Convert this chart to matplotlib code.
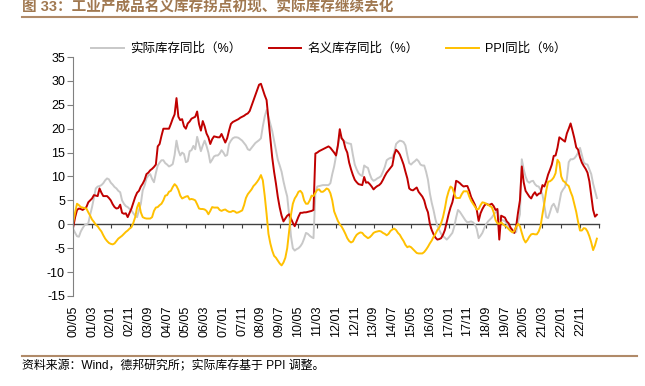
import matplotlib
matplotlib.use("Agg")
import matplotlib.pyplot as plt
from matplotlib.lines import Line2D
import pandas as pd

plt.rcParams['font.family'] = ['Liberation Sans', 'Noto Sans CJK SC']
plt.rcParams['axes.unicode_minus'] = False

# months 2000/05 .. 2023/08
months = pd.period_range('2000-05', periods=280, freq='M')
month_labels = [f"{p.year % 100:02d}/{p.month:02d}" for p in months]

# 实际库存同比 (%)
real_inv = [
    -1.0, -1.8, -2.5, -2.6, -1.5, -0.8, -0.2, 0.0, 0.2, 2.0,
    3.6, 5.5, 7.5, 7.9, 8.0, 8.2, 8.6, 9.2, 9.6, 9.4,
    8.7, 8.3, 7.8, 7.5, 7.0, 6.7, 5.0, 4.3, 3.8, 3.6,
    3.2, 2.9, 2.3, 1.8, 1.5, 3.0, 4.3, 7.1, 8.1, 9.6,
    10.2, 10.5, 9.5, 8.8, 10.7, 12.3, 12.9, 13.4, 13.4, 12.8,
    12.5, 12.1, 12.3, 12.6, 14.5, 17.5, 15.5, 14.4, 15.0, 14.7,
    13.0, 13.2, 15.3, 15.5, 16.4, 15.7, 18.3, 16.8, 15.3, 16.5,
    17.5, 16.4, 15.0, 12.9, 13.5, 14.2, 14.4, 14.4, 14.8, 15.5,
    15.0, 14.3, 14.5, 16.8, 17.5, 18.0, 18.2, 18.2, 18.1, 17.8,
    17.5, 17.0, 16.5, 15.7, 15.5, 16.0, 16.5, 17.0, 17.3, 17.6,
    18.0, 20.5, 22.5, 23.9, 22.5, 21.0, 19.5, 17.5, 15.5, 13.5,
    12.3, 11.0, 9.0, 7.3, 5.8, 2.0, -2.5, -5.0, -5.5, -5.2,
    -5.0, -4.6, -4.0, -3.0, -1.8, -2.0, -2.4, -2.7, -2.9, 6.5,
    7.9, 8.0, 8.1, 8.2, 8.2, 8.2, 8.2, 8.6, 10.5, 12.1,
    14.3, 16.5, 18.6, 18.0, 17.5, 17.2, 17.0, 16.9, 16.8, 14.5,
    12.5, 11.5, 10.7, 10.3, 10.1, 12.3, 12.0, 11.8, 10.5, 9.5,
    9.1, 9.3, 9.6, 9.8, 10.1, 11.0, 12.0, 13.4, 13.7, 13.9,
    13.9, 15.0, 16.8, 17.2, 17.5, 17.4, 17.2, 16.5, 14.5, 12.8,
    12.5, 12.9, 13.2, 13.6, 13.2, 12.5, 12.3, 12.3, 11.0, 9.3,
    6.5, 4.5, 2.9, 1.0, -0.3, -1.2, -2.0, -2.5, -2.8, -3.2,
    -2.8, -2.3, -1.8, -0.5, 1.4, 3.0, 2.6, 2.0, 1.4, 0.8,
    0.4, 0.5, 0.6, 0.4, 0.0, -1.0, -2.9, -2.4, -1.8, -0.8,
    0.0, 0.6, 1.0, 1.4, 2.0, 2.5, 2.9, 1.1, 1.0, 0.8,
    0.7, 0.2, -0.5, -1.0, -1.5, -1.8, -1.6, 0.5, 2.1, 13.6,
    11.5, 10.0, 9.0, 8.7, 9.0, 9.1, 8.4, 8.0, 7.9, 7.2,
    6.2, 4.0, 1.5, 1.3, 2.5, 3.8, 4.3, 3.5, 2.5, 4.5,
    6.6, 7.3, 7.8, 9.5, 13.0, 13.6, 13.6, 13.8, 14.3, 15.0,
    16.0, 14.5, 12.9, 12.6, 12.5, 11.5, 10.5, 8.5, 7.0, 5.5,
]

# 名义库存同比 (%)
nominal_inv = [
    -0.5, 1.5, 3.0, 3.3, 3.2, 3.0, 3.3, 3.6, 4.6, 5.0,
    5.4, 6.1, 6.0, 5.9, 7.5, 6.6, 5.9, 5.9, 5.9, 5.5,
    5.0, 4.2, 3.6, 3.3, 3.4, 4.1, 2.4, 2.2, 2.3, 1.5,
    2.4, 3.3, 4.5, 5.7, 6.6, 7.0, 7.9, 8.5, 9.3, 10.5,
    10.8, 11.3, 11.6, 12.0, 12.5, 16.3, 16.8, 18.5, 20.0, 20.0,
    20.0, 20.0, 21.0, 22.1, 23.0, 26.4, 22.5, 21.8, 22.0, 20.5,
    20.0, 21.1, 21.5, 22.1, 22.3, 22.5, 23.6, 21.0, 19.6, 21.6,
    20.5, 19.0, 18.2, 16.8, 17.8, 18.4, 18.3, 18.2, 18.2, 18.9,
    18.0, 17.1, 18.0, 19.6, 21.0, 21.4, 21.6, 21.8, 22.0, 22.3,
    22.5, 22.7, 23.0, 23.2, 23.7, 24.8, 25.9, 27.0, 28.1, 29.2,
    29.4, 28.2, 27.0, 26.0, 22.0, 18.0, 14.0, 11.0, 8.5, 5.7,
    3.5, 1.8, 0.6, 1.2, 1.8, 2.1, 1.2, 0.3, -0.4, 0.6,
    1.6, 2.4, 2.4, 2.5, 2.5, 2.6, 2.7, 2.8, 3.0, 14.8,
    15.0, 15.3, 15.5, 15.7, 15.9, 16.1, 16.3, 16.0, 15.5, 15.0,
    14.4, 16.5, 19.9, 18.0, 17.5, 15.9, 15.0, 12.9, 11.5, 10.3,
    9.3, 8.8, 8.4, 8.3, 8.2, 9.9, 8.7, 8.8, 8.4, 7.9,
    7.3, 7.7, 8.0, 8.2, 8.6, 9.3, 10.1, 10.8, 11.3, 11.8,
    12.3, 14.5, 15.6, 15.2, 14.6, 13.6, 12.5, 11.0, 9.6, 7.5,
    7.2, 7.1, 7.4, 7.7, 6.8, 6.3, 5.8, 5.0, 3.5, 2.5,
    0.1, -1.2, -2.1, -2.8, -3.2, -3.1, -2.9, -2.2, -1.2, 0.5,
    2.1, 3.5, 4.6, 6.4, 9.1, 8.9, 8.6, 8.2, 7.9, 8.0,
    8.0, 7.0, 5.7, 4.9, 4.1, 3.0, 0.7, 2.3, 3.2, 3.9,
    4.3, 4.1, 4.1, 4.3, 3.8, 3.0, 3.2, -3.2, 1.8, 1.6,
    1.4, 0.6, 0.2, -0.7, -1.2, -1.8, -0.4, 2.5, 5.0, 12.1,
    8.8, 7.0, 6.4, 5.8, 5.4, 6.2, 6.7, 6.0, 6.4, 6.5,
    8.2, 7.9, 9.0, 10.4, 11.4, 12.5, 14.3, 14.4, 16.0, 18.2,
    17.9, 17.6, 17.3, 19.0, 20.0, 21.1, 19.6, 18.0, 16.1, 15.6,
    14.0, 12.9, 12.2, 11.6, 10.8, 9.0, 6.0, 3.0, 1.6, 2.0,
]

# PPI同比 (%)
ppi = [
    0.5, 2.5, 4.3, 4.0, 3.6, 3.5, 3.4, 3.3, 2.5, 1.8,
    1.0, 0.5, -0.1, -0.4, -1.0, -1.5, -2.3, -3.0, -3.5, -3.9,
    -4.1, -4.2, -4.0, -3.5, -3.0, -2.7, -2.4, -2.0, -1.6, -1.3,
    -0.9, -0.6, 0.3, 1.5, 3.5, 4.5, 2.5, 1.5, 1.3, 1.2,
    1.2, 1.2, 1.5, 2.8, 3.5, 3.6, 4.0, 4.3, 5.0, 6.0,
    6.1, 6.8, 7.0, 7.8, 8.4, 8.0, 7.2, 6.0, 5.4, 5.6,
    5.8, 5.9, 5.2, 5.3, 5.2, 5.0, 4.2, 3.3, 3.2, 3.2,
    3.1, 2.8, 2.1, 2.8, 3.6, 3.5, 3.5, 3.5, 3.0, 2.8,
    3.0, 3.1, 2.8, 2.6, 2.6, 2.8, 2.7, 2.4, 2.5, 2.7,
    2.9, 4.0, 5.5, 6.3, 6.8, 7.3, 8.0, 8.4, 8.9, 9.5,
    10.3, 9.2, 6.0, 2.2, -2.0, -4.0, -5.5, -6.6, -7.0, -7.6,
    -8.2, -8.6, -8.0, -7.0, -5.0, -1.5, 2.0, 4.3, 5.4, 6.0,
    6.8, 7.0, 6.5, 5.0, 4.3, 4.3, 5.0, 6.0, 5.9, 6.6,
    7.2, 7.3, 6.8, 6.8, 7.1, 7.5, 7.3, 6.5, 5.0, 2.7,
    1.7, 0.7, 0.0, -0.5, -1.2, -2.0, -2.9, -3.5, -3.8, -3.6,
    -2.8, -2.2, -1.9, -1.7, -1.8, -2.3, -2.6, -2.9, -2.7, -2.3,
    -1.8, -1.6, -1.5, -1.4, -1.5, -1.8, -2.0, -2.3, -2.0, -1.4,
    -1.1, -0.9, -1.2, -1.8, -2.2, -2.9, -3.5, -4.3, -4.8, -4.6,
    -4.8, -5.2, -5.6, -6.0, -6.1, -6.1, -6.1, -5.8, -5.3, -4.7,
    -4.0, -3.4, -2.6, -2.0, -1.2, -0.7, 0.2, 1.5, 3.3, 5.5,
    6.9, 7.9, 7.6, 6.4, 5.5, 5.5, 5.5, 6.3, 6.9, 6.9,
    6.9, 5.8, 4.9, 4.3, 3.7, 3.1, 3.2, 4.0, 4.6, 4.5,
    4.3, 4.1, 3.8, 3.6, 2.5, 0.9, 0.2, 0.1, 0.4, 0.0,
    -0.3, -0.6, -1.0, -1.4, -1.7, -1.4, -0.5, 0.1, -0.4, -1.8,
    -3.1, -3.8, -3.3, -2.6, -2.1, -2.0, -2.1, -2.1, -1.5, -0.4,
    2.1, 4.4, 7.0, 8.9, 9.0, 9.3, 9.8, 10.7, 13.5, 12.9,
    10.0, 9.1, 8.8, 8.3, 8.0, 6.8, 5.8, 4.2, 2.6, 0.5,
    -1.3, -1.3, -0.8, -0.9, -1.5, -2.5, -3.8, -5.4, -4.4, -3.0,
]

series_names = ['实际库存同比（%）', '名义库存同比（%）', 'PPI同比（%）']
colors = ['#C8C8C8', '#C00000', '#FFC000']

fig = plt.figure(figsize=(6.45, 3.86), dpi=100)
ax = fig.add_axes([0.1136, 0.2332, 0.8147, 0.6191])

x = list(range(len(months)))
for vals, name, c in zip([real_inv, nominal_inv, ppi], series_names, colors):
    ax.plot(x, vals, color=c, lw=1.4, label=name)

ax.set_xlim(0, len(months))
ax.set_ylim(-15, 35)
ax.set_yticks(range(-15, 36, 5))

label_pos = list(range(0, len(months), 10))
ax.set_xticks(label_pos)
ax.set_xticklabels([month_labels[i] for i in label_pos], rotation=90)
ax.tick_params(axis='x', length=0, pad=7, labelsize=9)
ax.tick_params(axis='y', direction='out', length=4, color='#808080', labelsize=9, pad=2)

for s in ['top', 'right', 'bottom']:
    ax.spines[s].set_visible(False)
ax.spines['left'].set_color('#808080')

# zero line with its own ticks
zero_frac = (0 - (-15)) / (35 - (-15))
secax = ax.secondary_xaxis(zero_frac)
secax.set_xticks(list(range(0, len(months) + 1, 10)))
secax.tick_params(direction='out', length=3, color='#404040', labelbottom=False)
secax.spines['bottom'].set_color('#404040')
secax.spines['bottom'].set_linewidth(1.0)

fig.legend(loc='center', bbox_to_anchor=(0.51, 0.873), ncol=3, frameon=False,
           fontsize=9, handlelength=2.6, columnspacing=2.2, handletextpad=0.5)

brown = '#B08A68'
fig.text(0.034, 0.982, '图 33：工业产成品名义库存拐点初现、实际库存继续去化',
         fontsize=10.5, fontweight='bold', color='#A07850', va='center', ha='left')
fig.add_artist(Line2D([0.034, 0.988], [0.956, 0.956], color=brown, lw=1.5))
fig.add_artist(Line2D([0.034, 0.988], [0.078, 0.078], color=brown, lw=1.5))
fig.text(0.034, 0.05, '资料来源：Wind，德邦研究所；实际库存基于 PPI 调整。',
         fontsize=8.6, color='black', va='center', ha='left')

fig.savefig('out.png', dpi=100)
